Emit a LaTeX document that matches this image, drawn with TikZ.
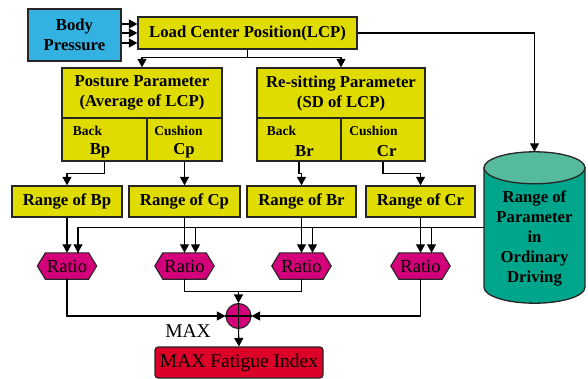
\documentclass[tikz,border=0pt]{standalone}
\usepackage{fontspec}
\setmainfont{Liberation Serif}
\usetikzlibrary{arrows.meta,backgrounds,calc}
\definecolor{ylw}{RGB}{224,220,0}
\definecolor{bpblue}{RGB}{51,177,224}
\definecolor{mag}{RGB}{212,0,122}
\definecolor{redbox}{RGB}{220,0,40}
\definecolor{cylbody}{RGB}{0,166,140}
\definecolor{cyltop}{RGB}{86,187,157}
\tikzset{
  bfnt/.style={font=\fontsize{16.7}{20}\selectfont\bfseries},
  smfnt/.style={font=\fontsize{13.5}{16}\selectfont\bfseries},
  ybox/.style={draw=black!85, line width=1.3pt, fill=ylw, inner sep=0pt, bfnt, align=center},
  cell/.style={draw=black!85, line width=1.3pt, fill=ylw, inner sep=0pt},
  txt/.style={inner sep=0pt},
  arr/.style={-{Triangle[length=8.5pt,width=9pt]}, line width=1.1pt},
  ln/.style={line width=1.1pt},
  hexst/.style={draw=black!85, line width=1.1pt, fill=mag},
}
\begin{document}
\begin{tikzpicture}[x=1pt,y=-1pt]
\useasboundingbox (0,0) rectangle (588,379);
% top row
\node[ybox, fill=bpblue, minimum width=93pt, minimum height=52pt] (bp) at (74.5,35) {Body\\Pressure};
\node[ybox, minimum width=219pt, minimum height=32pt] (lcp) at (247.5,33) {Load Center Position(LCP)};
% posture parameter
\node[ybox, minimum width=160pt, minimum height=50pt] (pt) at (142,93) {Posture Parameter\\(Average of LCP)};
\node[cell, minimum width=85pt, minimum height=43pt] (pb) at (104.5,139.5) {};
\node[cell, minimum width=75pt, minimum height=43pt] (pc) at (184.5,139.5) {};
\node[txt, smfnt] (pbl) at (87.5,131) {Back};
\node[txt, bfnt] (pbv) at (100,151) {Bp};
\node[txt, smfnt] (pcl) at (178.5,131) {Cushion};
\node[txt, bfnt] (pcv) at (184,151) {Cp};
% re-sitting parameter
\node[ybox, minimum width=168pt, minimum height=50pt] (rt) at (341,93) {Re-sitting Parameter\\(SD of LCP)};
\node[cell, minimum width=84pt, minimum height=43pt] (rb) at (299,139.5) {};
\node[cell, minimum width=84pt, minimum height=43pt] (rc) at (383,139.5) {};
\node[txt, smfnt] (rbl) at (281.5,131) {Back};
\node[txt, bfnt] (rbv) at (304.5,151) {Br};
\node[txt, smfnt] (rcl) at (373.5,131) {Cushion};
\node[txt, bfnt] (rcv) at (386.7,151) {Cr};
% ranges
\node[ybox, minimum width=110pt, minimum height=31pt] (rbp) at (67,201.5) {Range of Bp};
\node[ybox, minimum width=111pt, minimum height=31pt] (rcp) at (184.5,201.5) {Range of Cp};
\node[ybox, minimum width=109pt, minimum height=31pt] (rbr) at (301.5,201.5) {Range of Br};
\node[ybox, minimum width=109pt, minimum height=31pt] (rcr) at (420.5,201.5) {Range of Cr};
% cylinder
\node[txt, minimum width=101pt, minimum height=151pt] (cyl) at (534.5,227.5) {};
\node[txt, bfnt, align=center] (cyltxt) at (534.5,238) {Range of\\Parameter\\in\\Ordinary\\Driving};
% ratios
\node[txt, minimum width=59pt, minimum height=26pt, font=\fontsize{18.5}{20}\selectfont] (r1) at (67,266) {Ratio};
\node[txt, minimum width=59pt, minimum height=26pt, font=\fontsize{18.5}{20}\selectfont] (r2) at (184.5,266) {Ratio};
\node[txt, minimum width=59pt, minimum height=26pt, font=\fontsize{18.5}{20}\selectfont] (r3) at (301.5,266) {Ratio};
\node[txt, minimum width=59pt, minimum height=26pt, font=\fontsize{18.5}{20}\selectfont] (r4) at (420.5,266) {Ratio};
% max
\node[circle, draw=black!85, line width=1.1pt, fill=mag, minimum size=25pt, inner sep=0pt] (mx) at (238.5,316) {};
\draw[ln] (mx.north) -- (mx.south) (mx.west) -- (mx.east);
\node[txt, anchor=base, font=\fontsize{19.5}{20}\selectfont] (maxl) at (188,337) {MAX};
\node[draw=black!85, line width=1.1pt, fill=redbox, rounded corners=3pt, minimum width=168pt, minimum height=31pt, inner sep=0pt, font=\fontsize{19.5}{20}\selectfont] (fi) at (239,362.5) {MAX Fatigue Index};
% background shapes
\begin{scope}[on background layer]
\foreach \n in {r1,r2,r3,r4}
  \draw[hexst] (\n.west) -- ([xshift=8pt]\n.north west) -- ([xshift=-8pt]\n.north east) -- (\n.east) -- ([xshift=-8pt]\n.south east) -- ([xshift=8pt]\n.south west) -- cycle;
\path (cyl.north) ++(0pt,-16pt) coordinate (ct);
\path (cyl.south) ++(0pt,16pt) coordinate (cb);
\draw[draw=black!85, line width=1.3pt, fill=cylbody] ([xshift=-50.5pt]ct) -- ([xshift=-50.5pt]cb) arc[start angle=180, end angle=360, x radius=50.5pt, y radius=16pt] -- ([xshift=50.5pt]ct) -- cycle;
\draw[draw=black!85, line width=1.3pt, fill=cyltop] (ct) ellipse[x radius=50.5pt, y radius=16pt];
\end{scope}
% connectors
\draw[arr] ([yshift=11pt]bp.east) -- ([yshift=11pt]bp.east -| lcp.west);
\draw[arr] ([yshift=2pt]bp.east) -- ([yshift=2pt]bp.east -| lcp.west);
\draw[arr] ([yshift=-8pt]bp.east) -- ([yshift=-8pt]bp.east -| lcp.west);
\draw[ln] (lcp.south) -- ++(0,8) coordinate (split);
\draw[arr] (split) -| (pt.north);
\draw[arr] (split) -| (rt.north);
\draw[arr] (lcp.east) -| (cyl.north);
\draw[arr] (pb.south) -- ++(0,12) -| (rbp.north);
\draw[arr] (pc.south) -- (rcp.north);
\draw[arr] (rb.south) -- ++(0,12) -| (rbr.north);
\draw[arr] (rc.south) -- ++(0,12) -| (rcr.north);
\draw[ln] (cyl.west) -| ([xshift=11pt]r1.north);
\draw[arr] ([xshift=11pt]r1.north |- cyl.west) -- ([xshift=11pt]r1.north);
\draw[arr] ([xshift=11pt]r2.north |- cyl.west) -- ([xshift=11pt]r2.north);
\draw[arr] ([xshift=11pt]r3.north |- cyl.west) -- ([xshift=11pt]r3.north);
\draw[arr] ([xshift=11pt]r4.north |- cyl.west) -- ([xshift=11pt]r4.north);
\draw[arr] (rbp.south) -- (r1.north);
\draw[arr] (rcp.south) -- (r2.north);
\draw[arr] (rbr.south) -- (r3.north);
\draw[arr] (rcr.south) -- (r4.north);
\draw[arr] (r1.south) |- (mx.west);
\draw[arr] (r4.south) |- (mx.east);
\coordinate (jn) at ([yshift=-12pt]r2.south -| mx.north);
\draw[ln] (r2.south) |- (jn);
\draw[ln] (r3.south) |- (jn);
\draw[arr] (jn) -- (mx.north);
\draw[arr] (mx.south) -- (fi.north);
\end{tikzpicture}
\end{document}
